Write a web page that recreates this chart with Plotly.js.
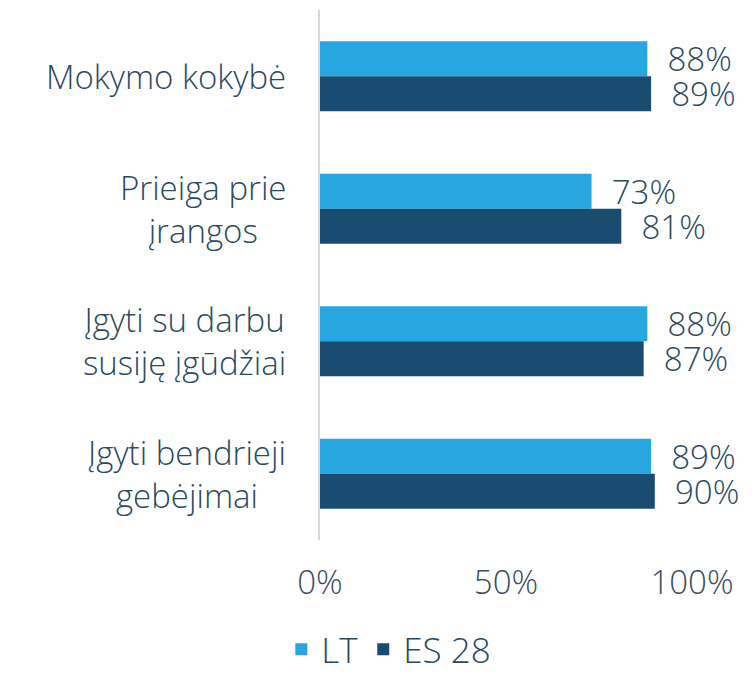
<!DOCTYPE html>
<html>
<head>
<meta charset="utf-8">
<script src="https://cdn.plot.ly/plotly-3.0.1.min.js"></script>
<style>html,body{margin:0;padding:0;background:#fff;}#chart{width:755px;height:679px;}</style>
</head>
<body>
<div id="chart"></div>
<script>
const categories = ["Mokymo kokybė", "Prieiga prie<br>įrangos", "Įgyti su darbu<br>susiję įgūdžiai", "Įgyti bendrieji<br>gebėjimai"];
const seriesNames = ["LT", "ES 28"];
const ltValues = [88, 73, 88, 89];
const esValues = [89, 81, 87, 90];
const tickVals = [0, 50, 100];
const tickLabels = ["0%", "50%", "100%"];

const textColor = "#2b4a62";
const fontFamily = "'Open Sans', 'Noto Sans', sans-serif";

function barTrace(name, values, color) {
  return {
    type: "bar",
    orientation: "h",
    name: name,
    y: categories,
    x: values,
    marker: {color: color},
    texttemplate: "\u00a0\u00a0%{x}%",
    textposition: "outside",
    constraintext: "none",
    cliponaxis: false,
    textfont: {family: fontFamily, size: 33, color: textColor, weight: 300},
    hoverinfo: "skip"
  };
}

const data = [
  barTrace(seriesNames[0], ltValues, "#27a6e0"),
  barTrace(seriesNames[1], esValues, "#1a4c72")
];

const annotations = categories.map(c => ({
  xref: "paper", yref: "y", x: 0, y: c,
  xanchor: "right", yanchor: "middle", xshift: -32,
  text: c, showarrow: false, align: "center",
  font: {family: fontFamily, size: 33, color: textColor, weight: 300}
}));

const layout = {
  width: 755, height: 679,
  margin: {l: 320, r: 63, t: 10, b: 139},
  paper_bgcolor: "#ffffff", plot_bgcolor: "#ffffff",
  barmode: "group", bargap: 0.47, bargroupgap: 0,
  font: {family: fontFamily, color: textColor, weight: 300},
  xaxis: {
    range: [0, 100], tickvals: tickVals, ticktext: tickLabels,
    showgrid: false, zeroline: false, showline: false, ticks: "",
    ticklabelstandoff: 20,
    tickfont: {family: fontFamily, size: 33, color: "#3a4d5c", weight: 300}
  },
  yaxis: {
    autorange: "reversed", showticklabels: false, ticks: "",
    showgrid: false, zeroline: false,
    showline: true, linecolor: "#d6d6d6", linewidth: 2
  },
  showlegend: true,
  legend: {
    orientation: "h", xref: "container", yref: "container",
    x: 0.515, xanchor: "center", y: 0.0, yanchor: "bottom",
    traceorder: "normal",
    font: {family: fontFamily, size: 35, color: textColor, weight: 300},
    itemwidth: 30
  },
  annotations: annotations
};

Plotly.newPlot("chart", data, layout, {displayModeBar: false, staticPlot: true});
</script>
</body>
</html>
